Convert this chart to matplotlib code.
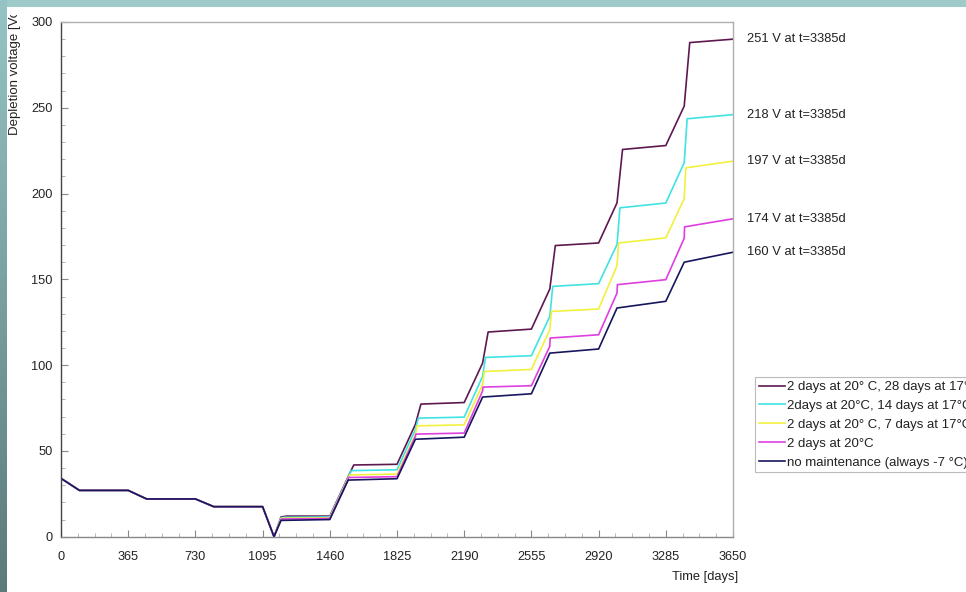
import numpy as np
import matplotlib
matplotlib.use("Agg")
import matplotlib.pyplot as plt
from matplotlib.transforms import Bbox

plt.rcParams['font.family'] = ['Liberation Sans', 'DejaVu Sans']

# ---------------- data ----------------
series_labels = [
    "2 days at 20\u00b0 C, 28 days at 17\u00b0 C",
    "2days at 20\u00b0C, 14 days at 17\u00b0C",
    "2 days at 20\u00b0 C, 7 days at 17\u00b0C",
    "2 days at 20\u00b0C",
    "no maintenance (always -7 \u00b0C)",
]
series_colors = ["#5e1850", "#3fe3e3", "#f2f03e", "#e03ee0", "#16165e"]

t_purple = [0, 100, 365, 465, 730, 830, 1095, 1157, 1195, 1225, 1460, 1560, 1590, 1825,
            1925, 1955, 2190, 2290, 2320, 2555, 2655, 2685, 2920, 3020, 3050, 3285, 3385, 3415, 3650]
v_purple = [34, 27, 27, 22, 22, 17.5, 17.5, 0, 11.5, 12, 12, 35, 41.8, 42.2,
            65.5, 77.3, 78.2, 101.2, 119.3, 121, 144.4, 169.7, 171.2, 194.6, 225.7, 228, 251, 288, 290]

t_cyan = [0, 100, 365, 465, 730, 830, 1095, 1157, 1195, 1211, 1460, 1560, 1576, 1825,
          1925, 1941, 2190, 2290, 2306, 2555, 2655, 2671, 2920, 3020, 3036, 3285, 3385, 3401, 3650]
v_cyan = [34, 27, 27, 22, 22, 17.5, 17.5, 0, 11, 11.3, 11.5, 34.5, 38.5, 39,
          62.5, 69.1, 69.7, 93.5, 104.5, 105.5, 128.4, 145.9, 147.5, 170.3, 191.7, 194.5, 218, 243.6, 246]

t_yellow = [0, 100, 365, 465, 730, 830, 1095, 1157, 1195, 1204, 1460, 1560, 1569, 1825,
            1925, 1934, 2190, 2290, 2299, 2555, 2655, 2664, 2920, 3020, 3029, 3285, 3385, 3394, 3650]
v_yellow = [34, 27, 27, 22, 22, 17.5, 17.5, 0, 10.5, 10.8, 11, 34, 36, 36.5,
            59.5, 64.6, 65.2, 88.7, 96.3, 97.5, 120.6, 131.3, 132.7, 158, 171.2, 174.2, 197, 215, 218.9]

t_magenta = [0, 100, 365, 465, 730, 830, 1095, 1157, 1195, 1197, 1460, 1560, 1562, 1825,
             1925, 1927, 2190, 2290, 2292, 2555, 2655, 2657, 2920, 3020, 3022, 3285, 3385, 3387, 3650]
v_magenta = [34, 27, 27, 22, 22, 17.5, 17.5, 0, 10, 10.3, 10.6, 33.5, 34.5, 35,
             58.5, 59.8, 60.4, 85, 87.2, 88, 111, 115.8, 117.7, 142, 146.9, 149.8, 174, 180.6, 185.3]

t_navy = [0, 100, 365, 465, 730, 830, 1095, 1157, 1195, 1460, 1560, 1825, 1925, 2190,
          2290, 2555, 2655, 2920, 3020, 3285, 3385, 3650]
v_navy = [34, 27, 27, 22, 22, 17.5, 17.5, 0, 9.5, 10, 33, 33.8, 56.8, 58,
          81.4, 83.3, 107, 109.4, 133.3, 137.2, 160, 165.8]

end_labels = [251, 218, 197, 174, 160]
label_day = 3385

x_ticks = [0, 365, 730, 1095, 1460, 1825, 2190, 2555, 2920, 3285, 3650]
y_ticks = [0, 50, 100, 150, 200, 250, 300]

series_t = [t_purple, t_cyan, t_yellow, t_magenta, t_navy]
series_v = [v_purple, v_cyan, v_yellow, v_magenta, v_navy]

# ---------------- figure ----------------
W, H = 966, 592
fig = plt.figure(figsize=(W / 100, H / 100), dpi=100)

# background: teal frame strips on top and left, white page
bg = fig.add_axes([0, 0, 1, 1], zorder=-10)
img = np.ones((H, W, 3))
top_col = np.array([158, 202, 202]) / 255
img[:7, :, :] = top_col
grad = np.linspace(0, 1, H)[:, None]
left_top = np.array([150, 196, 196]) / 255
left_bot = np.array([92, 122, 122]) / 255
img[:, :7, :] = (left_top * (1 - grad) + left_bot * grad)[:, None, :]
bg.imshow(img, aspect='auto', extent=[0, 1, 0, 1], interpolation='bilinear')
bg.set_axis_off()

ax = fig.add_axes([61 / W, 1 - 536.7 / H, (733 - 61) / W, (536.7 - 22) / H])
ax.set_facecolor('white')

for t, v, c, lab in zip(series_t, series_v, series_colors, series_labels):
    ax.plot(t, v, color=c, lw=1.2, label=lab)

for v, c, val in zip(series_v, series_colors, end_labels):
    ax.annotate(f"{val} V at t={label_day}d", xy=(3650, v[-1]), xytext=(14, 0),
                textcoords='offset pixels', va='center', ha='left', fontsize=9.3,
                color='#222222', annotation_clip=False)

ax.set_xlim(0, 3650)
ax.set_ylim(0, 300)
ax.set_xticks(x_ticks)
ax.set_yticks(y_ticks)
ax.set_xticks(np.arange(0, 3650.1, 91.25), minor=True)
ax.set_yticks(np.arange(0, 300.1, 10), minor=True)
ax.tick_params(axis='both', which='major', direction='in', length=5, width=0.8,
               color='#888888', labelsize=9.2, labelcolor='#222222')
ax.tick_params(axis='both', which='minor', direction='in', length=3, width=0.6, color='#aaaaaa')
ax.tick_params(axis='x', which='major', pad=10)
ax.tick_params(axis='y', which='major', pad=6)

ax.spines['left'].set_color('#444444')
ax.spines['bottom'].set_color('#888888')
ax.spines['top'].set_color('#b0b0b0')
ax.spines['right'].set_color('#b0b0b0')
for s in ax.spines.values():
    s.set_linewidth(1.0)

fig.text(738 / W, 1 - 577 / H, "Time [days]", ha='right', va='center', fontsize=9.3, color='#222222')

yl = fig.text(15 / W, 1 - 135 / H, "Depletion voltage [Volts]", rotation=90, ha='center',
              va='bottom', fontsize=9.5, color='#222222')
yl.set_clip_box(Bbox.from_extents(0, 0, W, H - 15))
yl.set_clip_on(True)

leg = fig.legend(loc='upper left', bbox_to_anchor=(755 / W, 1 - 377 / H), fontsize=9.5,
                 frameon=True, fancybox=False, handlelength=2.0, handletextpad=0.15,
                 labelspacing=0.5, borderpad=0.3, borderaxespad=0)
leg.get_frame().set_edgecolor('#aaaaaa')
leg.get_frame().set_linewidth(0.8)
for txt in leg.get_texts():
    txt.set_color('#222222')

fig.savefig("out.png", dpi=100)
